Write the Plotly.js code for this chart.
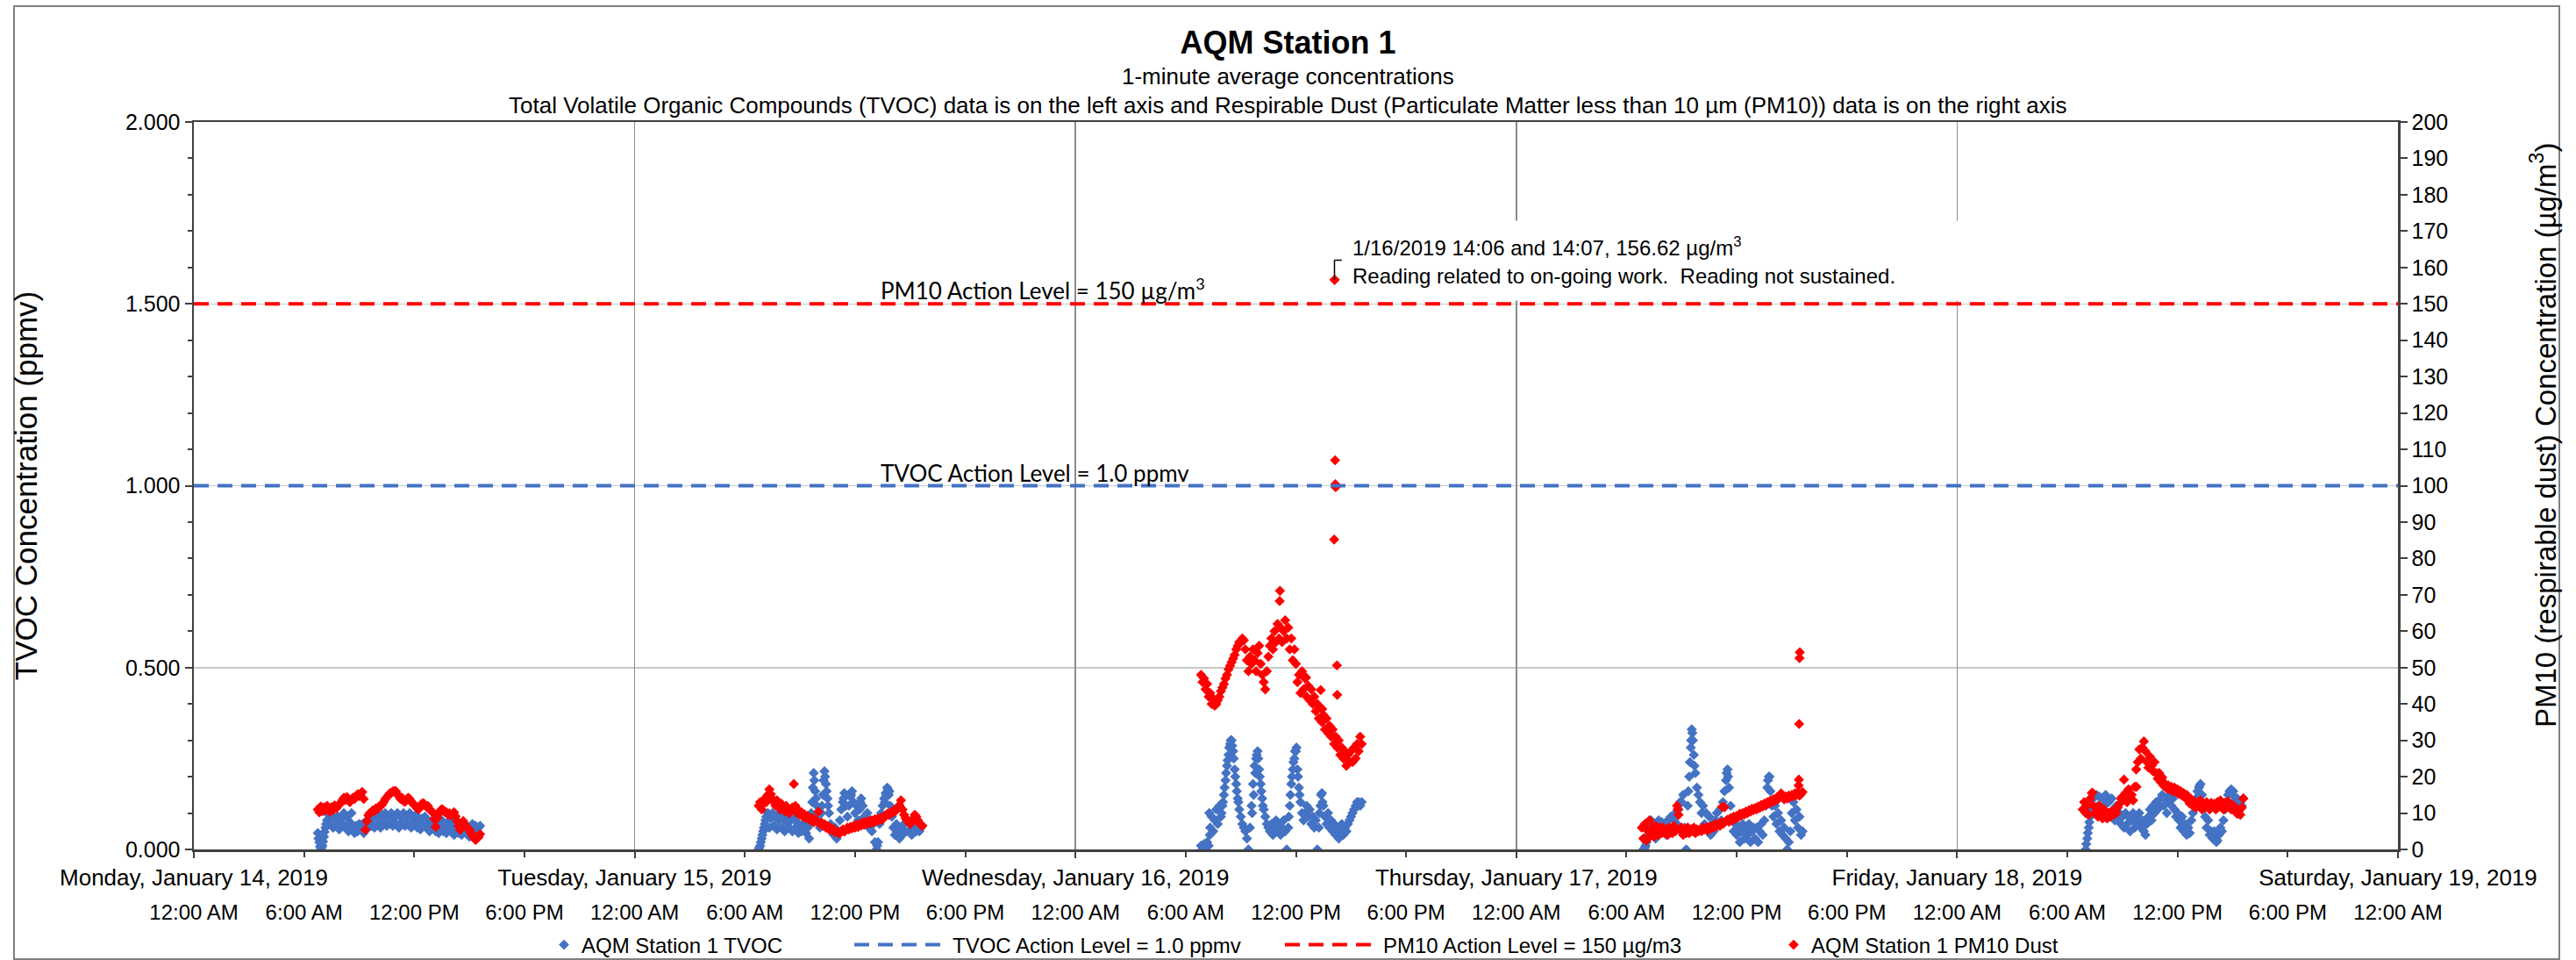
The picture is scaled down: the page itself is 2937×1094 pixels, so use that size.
<!DOCTYPE html>
<html>
<head>
<meta charset="utf-8">
<script src="https://cdn.plot.ly/plotly-3.0.1.min.js"></script>
<style>
  html, body { margin: 0; padding: 0; background: #ffffff; }
  #chart { width: 2937px; height: 1094px; }
</style>
</head>
<body>
<div id="chart"></div>
<script>
// ---------------- DATA ----------------
const sampleTimes = [
  "06:45","06:50","06:55",
  "07:00","07:05","07:10","07:15","07:20","07:25","07:30","07:35","07:40","07:45","07:50","07:55",
  "08:00","08:05","08:10","08:15","08:20","08:25","08:30","08:35","08:40","08:45","08:50","08:55",
  "09:00","09:05","09:10","09:15","09:20","09:25","09:30","09:35","09:40","09:45","09:50","09:55",
  "10:00","10:05","10:10","10:15","10:20","10:25","10:30","10:35","10:40","10:45","10:50","10:55",
  "11:00","11:05","11:10","11:15","11:20","11:25","11:30","11:35","11:40","11:45","11:50","11:55",
  "12:00","12:05","12:10","12:15","12:20","12:25","12:30","12:35","12:40","12:45","12:50","12:55",
  "13:00","13:05","13:10","13:15","13:20","13:25","13:30","13:35","13:40","13:45","13:50","13:55",
  "14:00","14:05","14:10","14:15","14:20","14:25","14:30","14:35","14:40","14:45","14:50","14:55",
  "15:00","15:05","15:10","15:15","15:20","15:25","15:30","15:35","15:40"
];
const days = ["2019-01-14","2019-01-15","2019-01-16","2019-01-17","2019-01-18"];

// TVOC (ppmv), aligned with sampleTimes
const tvoc14 = [
  .045,.02,.0,
  .01,.035,.06,.08,.095,.07,.095,.06,.085,.065,.09,.055,
  .08,.07,.1,.06,.09,.05,.075,.1,.06,.045,.065,.05,
  .07,.055,.07,.045,.06,.08,.06,.09,.065,.085,.06,.1,
  .07,.09,.06,.095,.075,.1,.065,.09,.07,.1,.065,.085,
  .07,.1,.06,.09,.075,.1,.065,.09,.07,.1,.06,.085,
  .07,.095,.06,.08,.055,.085,.065,.09,.06,.08,.05,.075,
  .06,.085,.05,.07,.045,.065,.08,.05,.07,.045,.065,.08,
  .05,.07,.04,.06,.075,.045,.065,.04,.055,.07,.045,.06,
  .035,.055,.07,.045,.065,.04,.06,.065,null
];
const tvoc15 = [
  .0,.01,.03,
  .05,.07,.09,.1,.06,.085,.1,.065,.09,.055,.08,.1,
  .06,.085,.05,.075,.095,.06,.08,.05,.09,.06,.075,.045,
  .065,.05,.07,.055,.045,.06,.03,.07,.13,.21,.16,.12,
  .08,.06,.1,.15,.215,.18,.14,.1,.07,.05,.04,.06,
  .03,.05,.08,.11,.13,.155,.12,.09,.12,.145,.16,.13,
  .1,.12,.08,.11,.14,.12,.09,.07,.1,.06,.08,.05,
  .07,.02,.0,.02,.07,.1,.12,.14,.155,.17,.15,.12,
  .09,.06,.04,.07,.05,.03,.06,.04,.07,.05,.08,.05,
  .07,.04,.06,.08,.05,.07,.05,.06,null
];
const tvoc16 = [
  null,.01,.0,
  .015,.005,.02,.01,.06,.09,.05,.08,.11,.07,.12,.09,
  .12,.15,.19,.23,.26,.29,.3,.27,.22,.18,.14,.11,
  .09,.07,.06,.05,.03,.0,.06,.12,.18,.23,.25,.27,
  .22,.18,.14,.11,.09,.07,.06,.05,.07,.04,.06,.08,
  .05,.07,.04,.06,.08,.05,.0,.06,.12,.18,.22,.25,
  .27,.22,.17,.13,.1,.08,.1,.12,.09,.11,.07,.09,
  .06,.08,.0,.06,.12,.155,.12,.09,.07,.1,.06,.08,
  .05,.07,.04,.06,.03,.05,.07,.04,.06,.05,.07,.08,
  .09,.1,.11,.12,.13,.13,.12,.13,null
];
const tvoc17 = [
  null,null,.0,
  .005,.02,.04,.06,.08,.05,.07,.03,.06,.08,.05,.075,
  .05,.07,.04,.08,.06,.09,.05,.08,.1,.07,.11,.13,
  .13,.15,.06,.0,.12,.2,.28,.32,.26,.21,.17,.15,
  .13,.1,.12,.07,.1,.06,.09,.04,.07,.05,.08,.1,
  .07,.11,.08,.13,.16,.19,.22,.17,.12,.08,.05,.07,
  .04,.06,.02,.05,.07,.03,.06,.04,.07,.02,.05,.06,
  .03,.06,.02,.05,.07,.04,.08,.12,.17,.2,.16,.12,
  .09,.12,.07,.1,.05,.08,.04,.06,.03,.0,.02,.05,
  .1,.13,.08,.11,.06,.09,.04,.05,null
];
const tvoc18 = [
  null,null,null,
  .0,.03,.06,.09,.12,.14,.1,.15,.12,.145,.1,.14,
  .12,.15,.1,.13,.09,.14,.11,.08,.12,.09,.1,.07,
  .09,.06,.1,.07,.09,.05,.08,.1,.06,.09,.07,.1,
  .06,.08,.05,.04,.07,.09,.11,.08,.12,.1,.13,.11,
  .12,.14,.15,.12,.14,.1,.13,.15,.12,.14,.11,.09,
  .1,.08,.06,.09,.05,.07,.04,.06,.045,.08,.1,.12,
  .14,.16,.17,.18,.15,.12,.09,.06,.08,.04,.05,.03,
  .05,.03,.025,.04,.06,.05,.08,.11,.13,.15,.16,.165,
  .15,.13,.12,.14,.11,.13,.12,.14,null
];
// extra TVOC readings around the short peaks
const tvocExtraTimes = [
  "2019-01-14 06:47","2019-01-14 06:52","2019-01-14 06:57","2019-01-14 07:02","2019-01-14 07:07","2019-01-14 07:12",
  "2019-01-15 06:47","2019-01-15 06:52","2019-01-15 06:57","2019-01-15 07:02","2019-01-15 07:07",
  "2019-01-15 09:37","2019-01-15 09:42","2019-01-15 09:47","2019-01-15 09:52","2019-01-15 09:57",
  "2019-01-15 10:12","2019-01-15 10:17","2019-01-15 10:22","2019-01-15 10:27","2019-01-15 10:32",
  "2019-01-15 11:22","2019-01-15 11:47","2019-01-15 12:17","2019-01-15 13:12",
  "2019-01-15 13:37","2019-01-15 13:42","2019-01-15 13:47","2019-01-15 13:52",
  "2019-01-16 07:17","2019-01-16 07:19","2019-01-16 07:57","2019-01-16 08:02","2019-01-16 08:07","2019-01-16 08:12",
  "2019-01-16 08:17","2019-01-16 08:22","2019-01-16 08:27","2019-01-16 08:32","2019-01-16 08:37","2019-01-16 08:42",
  "2019-01-16 08:47","2019-01-16 08:52",
  "2019-01-16 09:37","2019-01-16 09:42","2019-01-16 09:47","2019-01-16 09:52","2019-01-16 09:57","2019-01-16 10:02",
  "2019-01-16 10:07","2019-01-16 10:12",
  "2019-01-16 11:37","2019-01-16 11:42","2019-01-16 11:47","2019-01-16 11:52","2019-01-16 11:57","2019-01-16 12:02",
  "2019-01-16 12:07","2019-01-16 12:12","2019-01-16 13:17","2019-01-16 13:22","2019-01-16 13:27",
  "2019-01-17 06:57","2019-01-17 07:02","2019-01-17 07:07","2019-01-17 09:17","2019-01-17 09:22","2019-01-17 09:27",
  "2019-01-17 09:31","2019-01-17 09:33","2019-01-17 09:37","2019-01-17 09:42","2019-01-17 11:27","2019-01-17 11:32",
  "2019-01-17 13:42","2019-01-17 13:47",
  "2019-01-18 07:02","2019-01-18 07:07","2019-01-18 07:12","2019-01-18 07:17","2019-01-18 13:12","2019-01-18 14:07",
  "2019-01-18 15:02"
];
const tvocExtraValues = [
  .03,.008,.005,.022,.048,.07,
  .005,.02,.04,.06,.08,
  .1,.17,.19,.14,.1,
  .12,.19,.2,.16,.12,
  .14,.15,.13,.01,
  .13,.15,.165,.16,
  .1,.04,.1,.13,.17,.21,
  .245,.28,.3,.285,.25,.2,
  .16,.13,
  .1,.15,.21,.26,.25,.2,
  .16,.12,
  .09,.15,.2,.24,.27,.28,
  .2,.15,.1,.15,.13,
  .0,.01,.03,.05,.16,.24,
  .3,.33,.3,.23,.21,.2,
  .19,.2,
  .015,.045,.075,.105,.175,.02,
  .16
];

// PM10 dust (µg/m³), aligned with sampleTimes
const pm14 = [
  11.0,10.2,11.8,
  10.5,11.5,10.8,12.0,11.2,10.4,11.6,10.9,12.1,11.3,11.9,12.4,
  12.7,13.5,14.2,13.6,14.4,13.4,13.0,13.8,14.2,13.9,14.5,15.2,
  14.7,15.4,15.8,13.9,5.4,7.8,9.4,10.0,10.3,10.8,10.6,11.3,
  11.1,11.8,12.0,12.3,13.0,13.8,14.3,14.9,15.4,15.6,15.9,16.1,
  16.0,15.2,14.6,13.9,14.2,13.3,13.1,13.7,14.2,13.9,13.2,12.6,
  12.3,11.8,11.3,11.1,11.9,12.6,12.7,12.2,11.7,11.9,11.0,10.6,
  10.2,8.4,6.2,8.6,9.8,10.6,11.1,10.8,10.3,10.2,9.6,9.9,
  9.4,9.8,10.2,9.1,7.8,6.4,5.4,6.6,7.8,7.0,6.2,5.9,
  5.4,4.6,3.8,3.2,2.6,3.0,3.4,4.2,null
];
const pm15 = [
  12.0,13.0,11.0,
  12.5,14.0,13.0,15.0,16.5,15.2,14.0,13.0,12.0,13.5,12.2,11.0,
  12.5,11.2,10.5,12.0,11.0,10.0,10.8,11.5,18.0,12.0,10.0,10.8,
  9.5,10.2,9.0,9.6,8.5,9.2,8.5,8.0,8.6,7.5,8.2,7.6,
  10.4,7.0,7.4,6.5,7.0,6.0,6.4,5.5,6.0,5.2,5.6,4.8,
  5.0,4.5,4.4,5.0,5.5,4.9,5.3,6.0,5.5,6.2,5.8,6.5,
  6.0,6.8,6.2,7.0,6.6,7.4,6.8,7.6,7.1,7.8,7.2,8.0,
  7.5,8.3,7.8,8.5,8.0,8.8,8.3,9.0,9.4,9.8,9.5,10.2,
  10.0,10.6,10.4,11.2,11.6,12.2,13.5,11.0,9.5,8.6,8.0,7.4,
  7.0,7.8,8.5,9.5,9.0,8.0,7.2,6.8,6.5
];
const pm16 = [
  null,48.0,46.0,
  47.0,44.0,45.5,42.0,43.0,40.0,41.5,39.5,40.0,41.0,42.0,43.5,
  44.5,45.5,47.0,48.0,49.5,50.5,51.5,52.5,53.5,55.0,56.0,57.0,
  57.0,58.0,57.5,55.0,52.0,49.0,53.0,51.0,55.0,52.0,49.0,54.0,
  56.0,51.0,48.0,46.0,44.0,49.0,53.0,56.0,58.0,55.0,60.0,57.0,
  62.0,58.0,61.0,57.0,60.0,63.0,58.0,61.0,55.0,58.0,52.0,55.0,
  51.0,46.0,48.0,43.0,49.0,44.0,47.0,42.0,45.0,41.0,44.0,40.0,
  42.0,38.0,40.0,36.0,39.0,35.0,37.0,33.0,36.0,32.0,34.0,31.0,
  33.0,29.0,31.0,28.0,30.0,26.0,28.0,25.0,27.0,23.0,26.0,24.0,
  27.0,24.0,28.0,25.0,29.0,27.0,31.0,29.0,null
];
const pm17 = [
  null,6.0,3.0,
  7.0,2.5,5.0,8.0,4.0,6.0,3.5,6.5,5.0,4.0,6.0,4.5,
  6.0,4.5,5.5,4.0,6.0,5.0,4.5,6.5,5.0,12.0,9.5,5.5,
  6.0,4.0,5.5,4.5,6.0,4.5,5.5,5.0,6.0,4.5,5.5,5.0,
  5.5,5.0,6.0,5.5,6.0,5.2,6.2,5.8,6.5,6.0,7.0,6.5,
  7.0,6.5,7.5,7.0,11.6,7.8,8.2,7.6,8.6,8.0,9.0,8.4,
  9.2,8.8,9.8,9.4,10.0,9.6,10.4,10.0,10.8,10.4,11.2,10.8,
  11.4,11.0,11.8,11.4,12.2,11.8,12.6,12.2,13.0,12.6,13.4,13.0,
  13.8,13.4,14.2,13.8,14.6,15.4,14.4,13.8,14.6,14.0,14.8,14.4,
  15.0,14.6,15.4,15.0,15.6,14.8,15.2,15.8,null
];
const pm18 = [
  null,11.0,13.0,
  10.0,12.0,9.5,14.0,15.5,12.0,10.0,11.5,9.0,12.0,10.0,8.5,
  11.0,9.5,8.5,10.0,9.0,10.5,9.5,11.0,10.0,11.5,12.5,14.0,
  14.5,19.2,15.5,13.0,16.5,14.0,15.0,13.5,17.2,22.0,24.0,27.5,
  25.0,28.0,29.7,27.0,24.0,22.5,25.5,23.0,21.5,24.0,21.0,19.5,
  21.0,18.5,19.8,17.5,18.0,16.8,17.6,16.5,17.2,16.0,17.0,15.8,
  16.5,15.2,16.0,14.8,15.5,14.2,15.0,13.5,12.6,13.8,12.0,13.2,
  11.5,13.0,12.0,13.5,11.0,12.5,11.5,13.0,12.0,11.0,12.8,11.8,
  12.5,11.0,13.0,11.8,13.5,12.2,11.0,12.8,11.5,13.2,12.0,11.0,
  12.2,10.8,11.5,9.8,10.5,9.5,11.5,14.0,null
];
// extra / isolated PM10 readings
const pm10ExtraTimes = [
  "2019-01-16 11:07","2019-01-16 11:08","2019-01-16 12:33","2019-01-16 13:21","2019-01-16 13:26",
  "2019-01-16 14:05","2019-01-16 14:06","2019-01-16 14:07","2019-01-16 14:08","2019-01-16 14:09",
  "2019-01-16 14:10","2019-01-16 14:14","2019-01-16 14:15",
  "2019-01-17 08:47","2019-01-17 11:12",
  "2019-01-17 15:22","2019-01-17 15:23","2019-01-17 15:24","2019-01-17 15:25","2019-01-17 15:26",
  "2019-01-18 07:22","2019-01-18 09:46"
];
const pm10ExtraValues = [
  68.3,71.1,47.3,43.8,38.6,
  85.2,156.62,156.62,107.0,100.4,
  99.6,50.6,42.5,
  11.0,11.7,
  17.6,19.2,34.5,52.6,54.2,
  15.6,17.2
];

// action levels and axis labels
const actionX = ["2019-01-14 00:00","2019-01-19 00:00"];
const tvocAction = [1.0, 1.0];
const pm10Action = [150, 150];
const timeTickText = ["12:00 AM","6:00 AM","12:00 PM","6:00 PM"];
const timeLabels = ["00:00","06:00","12:00","18:00"];
const dateTickVals = ["2019-01-14","2019-01-15","2019-01-16","2019-01-17","2019-01-18","2019-01-19"];
const dateTickText = ["Monday, January 14, 2019","Tuesday, January 15, 2019","Wednesday, January 16, 2019",
                      "Thursday, January 17, 2019","Friday, January 18, 2019","Saturday, January 19, 2019"];

// ---------------- BUILD ----------------
const timeTickVals = [], timeTicksText = [];
dateTickVals.forEach((d, i) => {
  timeLabels.forEach((t, j) => {
    if (i === dateTickVals.length - 1 && j > 0) return;
    timeTickVals.push(d + " " + t);
    timeTicksText.push(timeTickText[j]);
  });
});

function collect(series) {
  const xs = [], ys = [];
  series.forEach((vals, di) => {
    vals.forEach((v, k) => {
      if (v !== null) { xs.push(days[di] + " " + sampleTimes[k]); ys.push(v); }
    });
  });
  return [xs, ys];
}
const [tvX, tvY] = collect([tvoc14, tvoc15, tvoc16, tvoc17, tvoc18]);
const [pmX, pmY] = collect([pm14, pm15, pm16, pm17, pm18]);

const BLUE = "#4472C4", RED = "#FF0000";
const FONT = "Liberation Sans, Arial, sans-serif";
const MS = 9;

const traces = [
  {
    name: "AQM Station 1 TVOC", type: "scatter", mode: "markers",
    x: tvX.concat(tvocExtraTimes), y: tvY.concat(tvocExtraValues),
    xaxis: "x", yaxis: "y", legend: "legend",
    marker: { symbol: "diamond", size: MS, color: BLUE, line: { width: 0 } }
  },
  {
    name: "TVOC Action Level = 1.0 ppmv", type: "scatter", mode: "lines",
    x: actionX, y: tvocAction, xaxis: "x2", yaxis: "y", legend: "legend2",
    line: { color: BLUE, width: 4, dash: "17px,10px" }
  },
  {
    name: "PM10 Action Level = 150 µg/m3", type: "scatter", mode: "lines",
    x: actionX, y: pm10Action, xaxis: "x", yaxis: "y2", legend: "legend3",
    line: { color: RED, width: 4, dash: "17px,10px" }
  },
  {
    name: "AQM Station 1 PM10 Dust", type: "scatter", mode: "markers",
    x: pmX.concat(pm10ExtraTimes), y: pmY.concat(pm10ExtraValues),
    xaxis: "x", yaxis: "y2", legend: "legend4",
    marker: { symbol: "diamond", size: MS, color: RED, line: { width: 0 } }
  }
];

const AX = "#404040";
function leg(xpx, iw) {
  return { orientation: "h", x: xpx / 2937, xanchor: "left", xref: "container",
           y: 1 - 1077 / 1094, yanchor: "middle", yref: "container",
           font: { size: 24 }, itemwidth: iw, bgcolor: "rgba(0,0,0,0)", borderwidth: 0 };
}
const layout = {
  width: 2937, height: 1094,
  margin: { l: 221, r: 203, t: 139, b: 126, autoexpand: false },
  paper_bgcolor: "#ffffff", plot_bgcolor: "#ffffff",
  font: { family: FONT, size: 25, color: "#000000" },
  showlegend: true,
  title: {
    text: "<b>AQM Station 1</b>",
    font: { family: FONT, size: 36, color: "#000000" },
    xref: "container", x: 0.5, xanchor: "center",
    yref: "container", y: 1 - 48 / 1094, yanchor: "middle"
  },
  xaxis: {
    type: "date", range: ["2019-01-14 00:00", "2019-01-19 00:00"],
    tickmode: "array", tickvals: timeTickVals, ticktext: timeTicksText,
    ticks: "outside", ticklen: 6, tickwidth: 2, tickcolor: AX,
    tickfont: { size: 24 }, ticklabelstandoff: 43,
    showline: true, linecolor: AX, linewidth: 2.5, mirror: true,
    showgrid: false, zeroline: false, automargin: false
  },
  xaxis2: {
    type: "date", overlaying: "x", anchor: "y", side: "bottom",
    range: ["2019-01-14 00:00", "2019-01-19 00:00"],
    tickmode: "array", tickvals: dateTickVals, ticktext: dateTickText,
    ticks: "outside", ticklen: 9, tickwidth: 2, tickcolor: AX,
    tickfont: { size: 26 }, ticklabelstandoff: 0,
    showline: false, showgrid: true, gridcolor: "#8c8c8c", gridwidth: 1.5, zeroline: false, automargin: false
  },
  yaxis: {
    range: [0, 2], tickmode: "array", tickvals: [0, 0.5, 1, 1.5, 2], tickformat: ".3f",
    ticks: "outside", ticklen: 8, tickwidth: 2, tickcolor: AX,
    minor: { dtick: 0.1, tick0: 0, ticks: "outside", ticklen: 5, tickwidth: 2, tickcolor: AX, showgrid: false },
    showline: true, linecolor: AX, linewidth: 2.5,
    showgrid: true, gridcolor: "#c8c8c8", gridwidth: 1.5, zeroline: false,
    tickfont: { size: 25 }, automargin: false,
    title: { text: "TVOC Concentration (ppmv)", font: { size: 35 }, standoff: 90 }
  },
  yaxis2: {
    overlaying: "y", side: "right", anchor: "x",
    range: [0, 200], dtick: 10, tick0: 0,
    ticks: "outside", ticklen: 8, tickwidth: 2, tickcolor: AX,
    showline: true, linecolor: AX, linewidth: 2.5,
    showgrid: false, zeroline: false, tickfont: { size: 25 }, automargin: false
  },
  legend: leg(623, 30),
  legend2: leg(969, 107),
  legend3: leg(1460, 107),
  legend4: leg(2025, 30),
  annotations: [
    { xref: "paper", yref: "paper", x: 0.4964, y: (968 - 87) / 829, yanchor: "middle", xanchor: "center",
      text: "1-minute average concentrations", showarrow: false, font: { size: 26 } },
    { xref: "paper", yref: "paper", x: 0.4964, y: (968 - 120) / 829, yanchor: "middle", xanchor: "center",
      text: "Total Volatile Organic Compounds (TVOC) data is on the left axis and Respirable Dust (Particulate Matter less than 10 µm (PM10)) data is on the right axis",
      showarrow: false, font: { size: 26 } },
    { xref: "paper", yref: "paper", x: (2900 - 221) / 2513, y: (968 - 496) / 829, xanchor: "center", yanchor: "middle",
      textangle: -90, text: "PM10 (respirable dust) Concentration (µg/m<sup>3</sup>)", showarrow: false,
      font: { size: 33 } },
    { xref: "paper", yref: "y2", x: (1002 - 221) / 2513, y: 154, xanchor: "left", yanchor: "middle",
      text: "PM10 Action Level = 150 µg/m<sup>3</sup>", showarrow: false,
      font: { family: "Lato, Carlito, sans-serif", size: 26 } },
    { xref: "paper", yref: "y", x: (1002 - 221) / 2513, y: 1.036, xanchor: "left", yanchor: "middle",
      text: "TVOC Action Level = 1.0 ppmv", showarrow: false,
      font: { family: "Lato, Carlito, sans-serif", size: 26 } },
    { xref: "paper", yref: "paper", x: (1541 - 221) / 2513, y: (968 - 297) / 829, xanchor: "left", yanchor: "middle",
      width: 695, height: 90, align: "left", valign: "middle", bgcolor: "#ffffff", borderpad: 0,
      text: "1/16/2019 14:06 and 14:07, 156.62 µg/m<sup>3</sup><br>Reading related to on-going work.\u00a0 Reading not sustained.",
      showarrow: false, font: { size: 24 } }
  ],
  shapes: [
    { type: "line", xref: "x", yref: "y2", x0: "2019-01-16 14:06", x1: "2019-01-16 14:06", y0: 156.62, y1: 162,
      line: { color: "#000000", width: 1.5 } },
    { type: "line", xref: "x", yref: "y2", x0: "2019-01-16 14:06", x1: "2019-01-16 14:30", y0: 162, y1: 162,
      line: { color: "#000000", width: 1.5 } },
    { type: "rect", xref: "paper", yref: "paper", layer: "below",
      x0: (16 - 221) / 2513, x1: (2918 - 221) / 2513, y0: (968 - 1093) / 829, y1: (968 - 7) / 829,
      line: { color: "#808080", width: 2 }, fillcolor: "rgba(0,0,0,0)" }
  ]
};

Plotly.newPlot("chart", traces, layout, { staticPlot: true, displayModeBar: false });
</script>
</body>
</html>
